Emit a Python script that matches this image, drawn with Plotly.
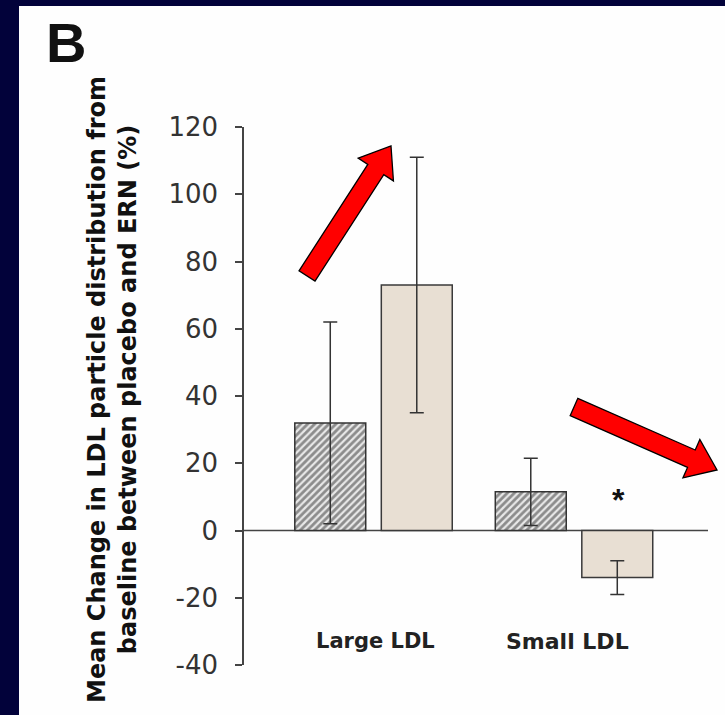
import plotly.graph_objects as go

# ---- data -------------------------------------------------------------
groups = ["Large LDL", "Small LDL"]
placebo_mean = [32, 11.5]          # hatched bars
placebo_err = [30, 10]
ern_mean = [73, -14]               # plain bars
ern_err = [38, 5]
y_tick_vals = [-40, -20, 0, 20, 40, 60, 80, 100, 120]
y_tick_text = ["-40", "-20", "0", "20", "40", "60", "80", "100", "120"]
sig_marker_y = 11                   # asterisk above the Small LDL ERN bar

# ---- layout geometry (pixels) ----------------------------------------
W, H = 725, 715
ML, MR, MT, MB = 244, 0, 127, 50
PW, PH = W - ML - MR, H - MT - MB
X_MIN, X_MAX = -0.646, 1.753


def px(x):
    return (x - ML) / PW


def py(y):
    return (H - MB - y) / PH


def arrow_path(tail, tip, shaft=9.5, head_w=21, head_len=28):
    """Block arrow outline in paper coordinates from pixel endpoints."""
    (x0, y0), (x1, y1) = tail, tip
    dx, dy = x1 - x0, y1 - y0
    n = (dx * dx + dy * dy) ** 0.5
    ux, uy = dx / n, dy / n
    nx, ny = -uy, ux
    bx, by = x1 - ux * head_len, y1 - uy * head_len
    pts = [
        (x0 + nx * shaft, y0 + ny * shaft),
        (bx + nx * shaft, by + ny * shaft),
        (bx + nx * head_w, by + ny * head_w),
        (x1, y1),
        (bx - nx * head_w, by - ny * head_w),
        (bx - nx * shaft, by - ny * shaft),
        (x0 - nx * shaft, y0 - ny * shaft),
    ]
    return "M " + " L ".join(f"{px(a):.4f},{py(b):.4f}" for a, b in pts) + " Z"


xs = list(range(len(groups)))

fig = go.Figure()
fig.add_trace(go.Bar(
    x=xs, y=placebo_mean, name="Placebo",
    marker=dict(
        color="#d0d0d0",
        line=dict(color="#333333", width=1.5),
        pattern=dict(shape="/", size=5, solidity=0.55,
                     fgcolor="#2f2f2f", bgcolor="#e8e8e8"),
    ),
    error_y=dict(type="data", array=placebo_err, color="#333333",
                 thickness=1.5, width=7),
))
fig.add_trace(go.Bar(
    x=xs, y=ern_mean, name="ERN",
    marker=dict(color="#e8dfd3", line=dict(color="#3a3a3a", width=1.5)),
    error_y=dict(type="data", array=ern_err, color="#333333",
                 thickness=1.5, width=7),
))

shapes = [
    # white panel on the navy slide
    dict(type="rect", xref="paper", yref="paper", layer="below",
         x0=px(19), x1=px(W + 5), y0=py(H + 5), y1=py(6),
         fillcolor="#fefefe", line=dict(width=0)),
    # zero baseline
    dict(type="line", xref="paper", yref="y", layer="below",
         x0=0, x1=px(708), y0=0, y1=0,
         line=dict(color="#444444", width=1.5)),
    # red call-out arrows
    dict(type="path", xref="paper", yref="paper",
         path=arrow_path((307, 276), (391, 146)),
         fillcolor="#ff0000", line=dict(color="#000000", width=1.3)),
    dict(type="path", xref="paper", yref="paper",
         path=arrow_path((574, 407), (717, 470)),
         fillcolor="#ff0000", line=dict(color="#000000", width=1.3)),
]

annotations = [
    dict(text="<b>B</b>", xref="paper", yref="paper", x=px(66), y=py(43),
         xanchor="center", yanchor="middle", showarrow=False,
         font=dict(family="Liberation Sans", size=56, color="#111111")),
    dict(text="<b>Mean Change in LDL particle distribution from<br>"
              "baseline between placebo and ERN (%)</b>",
         xref="paper", yref="paper", x=px(112), y=py(390),
         xanchor="center", yanchor="middle", textangle=-90, showarrow=False,
         font=dict(family="DejaVu Sans", size=24, color="#111111"),
         ),
    dict(text="<b>*</b>", xref="x", yref="y", x=1.22, y=sig_marker_y,
         xanchor="center", yanchor="middle", yshift=-6, showarrow=False,
         font=dict(family="Liberation Sans", size=32, color="#111111")),
]
for i, g in enumerate(groups):
    annotations.append(dict(
        text=f"<b>{g}</b>", xref="x", yref="y", x=i + (0.012 if i == 0 else -0.035),
        y=-33, xanchor="center", yanchor="middle", showarrow=False,
        font=dict(family="DejaVu Sans", size=21 if i == 0 else 22,
                  color="#222222")))

fig.update_layout(
    width=W, height=H,
    margin=dict(l=ML, r=MR, t=MT, b=MB, pad=0),
    paper_bgcolor="#02023a",
    plot_bgcolor="rgba(0,0,0,0)",
    barmode="group", bargap=0.137, bargroupgap=0.18,
    showlegend=False,
    shapes=shapes, annotations=annotations,
    xaxis=dict(range=[X_MIN, X_MAX], visible=False, fixedrange=True),
    yaxis=dict(
        range=[-40, 120], tickvals=y_tick_vals, ticktext=y_tick_text,
        showgrid=False, zeroline=False,
        showline=True, linecolor="#444444", linewidth=1.5,
        ticks="outside", ticklen=7, tickwidth=1.5, tickcolor="#444444",
        ticklabelstandoff=12,
        tickfont=dict(family="DejaVu Sans", size=26, color="#333333"),
    ),
)

fig.write_html("out.html")
